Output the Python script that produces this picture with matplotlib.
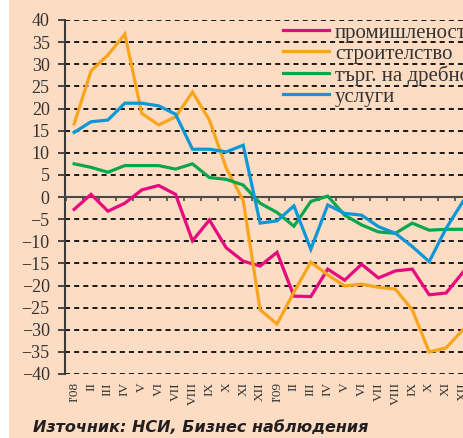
import matplotlib
matplotlib.use('Agg')
import matplotlib.pyplot as plt
from matplotlib.patches import Rectangle
from matplotlib.ticker import MultipleLocator, FixedLocator

# месеци 2008-2009
months = ["I'08", 'II', 'III', 'IV', 'V', 'VI', 'VII', 'VIII', 'IX', 'X', 'XI', 'XII',
          "I'09", 'II', 'III', 'IV', 'V', 'VI', 'VII', 'VIII', 'IX', 'X', 'XI', 'XII']

industry = [-2.8, 0.6, -3.2, -1.4, 1.6, 2.6, 0.6, -9.9, -5.2, -11.5, -14.5, -15.6,
            -12.5, -22.4, -22.5, -16.3, -18.8, -15.2, -18.3, -16.7, -16.3, -22.1, -21.7, -17.0]
construction = [16.5, 28.5, 32.1, 36.8, 18.9, 16.3, 18.1, 23.7, 17.4, 6.5, -0.8, -25.5,
                -28.7, -21.5, -14.7, -17.6, -20.1, -19.7, -20.4, -20.8, -25.5, -35.0, -34.1, -30.0]
retail = [7.5, 6.7, 5.6, 7.1, 7.1, 7.1, 6.3, 7.5, 4.4, 4.0, 2.7, -1.4,
          -3.5, -6.6, -1.0, 0.2, -4.1, -6.3, -7.9, -8.2, -5.9, -7.5, -7.3, -7.3]
services = [14.6, 17.0, 17.4, 21.2, 21.2, 20.6, 18.7, 10.8, 10.8, 10.2, 11.7, -5.9,
            -5.4, -2.0, -11.8, -1.8, -3.7, -4.1, -6.7, -8.2, -11.2, -14.6, -7.1, -1.0]

labels = ['промишленост', 'строителство', 'търг. на дребно', 'услуги']
colors = ['#E8097F', '#F9A51B', '#0AA64E', '#0C97D8']

bg = '#FCDCC2'
W, H = 463, 438

fig = plt.figure(figsize=(W / 100, H / 100), dpi=100, facecolor='white')
fig.patches.append(Rectangle((9 / W, 0), 1, 1, transform=fig.transFigure,
                             facecolor=bg, edgecolor='none', zorder=-10))

ax = fig.add_axes([65 / W, 1 - 374 / H, 1 - 65 / W, (374 - 20) / H])
ax.set_facecolor('none')

x = list(range(len(months)))
for series, lab, c in zip([industry, construction, retail, services], labels, colors):
    ax.plot(x, series, color=c, lw=2.3, label=lab, zorder=3, solid_joinstyle='miter')

ax.set_ylim(-40, 40)
ax.set_xlim(-0.54, 23)
ax.yaxis.set_major_locator(MultipleLocator(5))
ax.grid(axis='y', color='#1a1a1a', lw=1.4, linestyle=(0, (2.6, 2.1)), zorder=1)
ax.set_axisbelow(True)

# оси
for s in ['right', 'bottom']:
    ax.spines[s].set_visible(False)
ax.spines['left'].set_color('#3a3a3a')
ax.spines['left'].set_linewidth(1.5)
ax.spines['top'].set_position(('data', 0))
ax.spines['top'].set_color('#4a4a4a')
ax.spines['top'].set_linewidth(1.5)

ax.set_xticks(x)
ax.set_xticklabels(months, rotation=90, fontfamily='Liberation Serif', fontsize=9.5,
                   color='#333333')
ax.xaxis.set_minor_locator(FixedLocator([i + 0.5 for i in range(-1, 24)]))
ax.tick_params(axis='x', which='major', bottom=True, top=False, length=0, pad=6)
ax.tick_params(axis='x', which='minor', bottom=False, top=True, direction='in',
               length=3, width=1.2, color='#4a4a4a')
ax.tick_params(axis='y', length=5, width=1.3, color='#3a3a3a', pad=6,
               labelsize=13, labelcolor='#333333')
for t in ax.get_yticklabels():
    t.set_fontfamily('Liberation Serif')

leg = ax.legend(loc='upper left', bbox_to_anchor=(283 / W, 1 - 23 / H),
                bbox_transform=fig.transFigure, frameon=False,
                prop={'family': 'Liberation Serif', 'size': 15},
                handlelength=2.2, handletextpad=0.3, labelspacing=0.07,
                borderaxespad=0, borderpad=0)
for t in leg.get_texts():
    t.set_color('#333333')
for h in leg.get_lines():
    h.set_linewidth(2.3)

fig.text(33 / W, 1 - 432 / H, 'Източник: НСИ, Бизнес наблюдения',
         fontsize=11.5, fontweight='bold', fontstyle='italic', color='#231F20',
         family='DejaVu Sans')

plt.savefig('out.png', dpi=100, facecolor=fig.get_facecolor())
